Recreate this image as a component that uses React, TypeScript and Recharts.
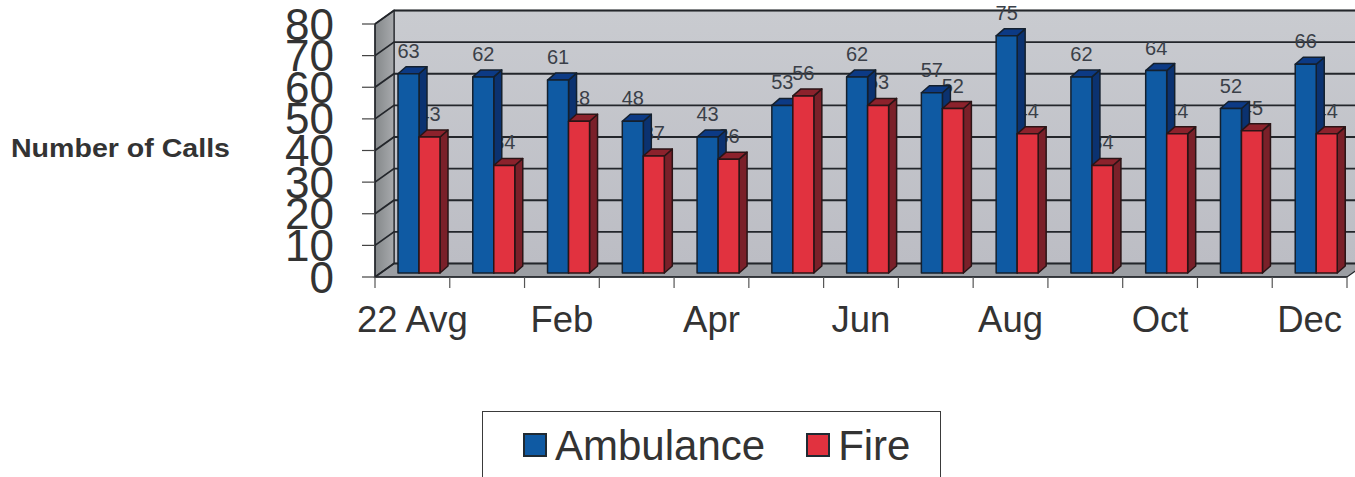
import React from "react";
import { BarChart, Bar, XAxis, YAxis, CartesianGrid, Legend } from "recharts";

const months = ["22 Avg", "Jan", "Feb", "Mar", "Apr", "May", "Jun", "Jul", "Aug", "Sep", "Oct", "Nov", "Dec"];
const ambulance = [63, 62, 61, 48, 43, 53, 62, 57, 75, 62, 64, 52, 66];
const fire = [43, 34, 48, 37, 36, 56, 53, 52, 44, 34, 44, 45, 44];
const yTicks = [0, 10, 20, 30, 40, 50, 60, 70, 80];

const data = months.map((month, i) => ({ month, Ambulance: ambulance[i], Fire: fire[i] }));

const FONT = "'Liberation Sans', Arial, sans-serif";
const INK = "#333333";
const LINE = "#23262b";
const WALL_DX = 19;
const WALL_DY = -13.5;
const BAR_DX = 7;
const BAR_DY = -4;
const DEPTH_X = 8;
const DEPTH_Y = -7;
const PLOT_WIDTH = 972;
const BAND = PLOT_WIDTH / months.length;

function Box3D({ x, y, width, height, front, side, top, edge }: any) {
  const r = x + width;
  const b = y + height;
  return (
    <g stroke={edge} strokeWidth={1.5} strokeLinejoin="round">
      <polygon points={`${r},${y} ${r + DEPTH_X},${y + DEPTH_Y} ${r + DEPTH_X},${b + DEPTH_Y} ${r},${b}`} fill={side} />
      <polygon points={`${x},${y} ${x + DEPTH_X},${y + DEPTH_Y} ${r + DEPTH_X},${y + DEPTH_Y} ${r},${y}`} fill={top} />
      <rect x={x} y={y} width={width} height={height} fill={front} />
    </g>
  );
}

function ValueText({ x, y, value }: any) {
  return (
    <text x={x} y={y} textAnchor="middle" dominantBaseline="central" fontFamily={FONT} fontSize={20} fill="#3a3f48">
      {value}
    </text>
  );
}

// The fire label sits behind the blue bar, as in the scanned chart, so it is painted here first.
function AmbulanceShape(props: any) {
  const { x, y, width, height, payload } = props;
  const X = x + BAR_DX;
  const Y = y + BAR_DY;
  const unit = height / payload.Ambulance;
  const fireTop = Y + height - payload.Fire * unit;
  return (
    <g>
      <ValueText x={X + width + width / 2} y={fireTop - 23} value={payload.Fire} />
      <ValueText x={X + width / 2} y={Y - 23} value={payload.Ambulance} />
      <Box3D x={X} y={Y} width={width} height={height} front="#0f5aa3" side="#0b3270" top="#0c3a85" edge="#14202e" />
    </g>
  );
}

function FireShape(props: any) {
  const { x, y, width, height } = props;
  return <Box3D x={x + BAR_DX} y={y + BAR_DY} width={width} height={height} front="#e1323f" side="#7a2029" top="#8c222c" edge="#2a1416" />;
}

// Tick marks fall on the category boundaries; only every other month is named.
function MonthTick({ x, y, index, payload }: any) {
  const tickTop = y - 28;
  const tickBottom = tickTop + 11;
  const left = x - BAND / 2;
  const right = x + BAND / 2;
  return (
    <g>
      <line x1={left} x2={left} y1={tickTop} y2={tickBottom} stroke="#555" strokeWidth={1.2} />
      {index === months.length - 1 && <line x1={right} x2={right} y1={tickTop} y2={tickBottom} stroke="#555" strokeWidth={1.2} />}
      {index % 2 === 0 && (
        <text x={x} y={y + 27} textAnchor="middle" fontFamily={FONT} fontSize={36.5} fill={INK}>
          {payload.value}
        </text>
      )}
    </g>
  );
}

function GridLine(props: any) {
  const { x1, y1, x2, index, x, y, width, height } = props;
  const left = x1 + WALL_DX;
  const backY = y1 + WALL_DY;
  const px = x ?? x1;
  const py = y ?? 24;
  const pw = width ?? x2 - x1;
  const ph = height ?? 253;
  return (
    <g>
      {index === 0 && (
        <g>
          <defs>
            <linearGradient id="backWall" x1="0" y1="0" x2="0" y2="1">
              <stop offset="0" stopColor="#c9cbd0" />
              <stop offset="1" stopColor="#bcbdc4" />
            </linearGradient>
            <linearGradient id="sideWall" x1="0" y1="0" x2="1" y2="0">
              <stop offset="0" stopColor="#84888a" />
              <stop offset="1" stopColor="#a8aaad" />
            </linearGradient>
          </defs>
          <rect x={px + WALL_DX} y={py + WALL_DY} width={pw} height={ph} fill="url(#backWall)" stroke={LINE} strokeWidth={1.2} />
          <polygon
            points={`${px},${py} ${px + WALL_DX},${py + WALL_DY} ${px + WALL_DX},${py + ph + WALL_DY} ${px},${py + ph}`}
            fill="url(#sideWall)"
            stroke={LINE}
            strokeWidth={1.2}
          />
          <polygon
            points={`${px},${py + ph} ${px + WALL_DX},${py + ph + WALL_DY} ${px + pw + WALL_DX},${py + ph + WALL_DY} ${px + pw},${py + ph}`}
            fill="#9b9ea3"
            stroke={LINE}
            strokeWidth={1.2}
          />
        </g>
      )}
      <polyline points={`${x1},${y1} ${left},${backY} ${x2 + WALL_DX},${backY}`} fill="none" stroke={LINE} strokeWidth={1.8} />
    </g>
  );
}

function LegendBox({ payload }: any) {
  const items = payload ?? [];
  return (
    <div
      style={{
        boxSizing: "border-box",
        width: 459,
        height: 90,
        border: "1px solid #3a3a3a",
        display: "flex",
        alignItems: "flex-start",
        paddingLeft: 40,
        paddingTop: 10,
        gap: 41,
        background: "#fff",
      }}
    >
      {items.map((item: any) => (
        <div key={item.value} style={{ display: "flex", alignItems: "center", gap: 8, fontFamily: FONT, fontSize: 42, lineHeight: "48px", color: INK }}>
          <span style={{ boxSizing: "border-box", width: 24, height: 24, background: item.color, border: "2px solid #1f2a33", marginTop: -2 }} />
          {item.value}
        </div>
      ))}
    </div>
  );
}

export default function App() {
  return (
    <div style={{ position: "absolute", left: 0, top: 0, width: 1355, height: 477, overflow: "hidden", background: "#fff" }}>
      <BarChart
        width={1355}
        height={477}
        data={data}
        margin={{ top: 24, right: 1355 - 375 - PLOT_WIDTH, bottom: 0, left: 0 }}
        barGap={0}
        barCategoryGap={16}
      >
        <CartesianGrid vertical={false} horizontal={GridLine as any} />
        <XAxis
          dataKey="month"
          interval={0}
          height={200}
          axisLine={{ stroke: LINE, strokeWidth: 1.4 }}
          tickLine={false}
          tickSize={10}
          tickMargin={18}
          tick={MonthTick as any}
        />
        <YAxis
          width={375}
          domain={[0, 80]}
          ticks={yTicks}
          interval={0}
          axisLine={{ stroke: LINE, strokeWidth: 1.4 }}
          tickLine={{ stroke: "#444", strokeWidth: 1.2 }}
          tickSize={13}
          tickMargin={28}
          tick={{ fontFamily: FONT, fontSize: 44, fill: INK }}
          label={{
            content: () => (
              <text x={11} y={157} fontFamily={FONT} fontWeight="bold" fontSize={26} fill={INK} textLength={219} lengthAdjust="spacingAndGlyphs">
                Number of Calls
              </text>
            ),
          }}
        />
        <Legend
          layout="horizontal"
          verticalAlign="middle"
          align="center"
          content={LegendBox as any}
          wrapperStyle={{ position: "absolute", left: 482, top: 411, width: 459, height: 90, margin: 0 }}
        />
        <Bar dataKey="Ambulance" fill="#0f5aa3" shape={AmbulanceShape as any} isAnimationActive={false} />
        <Bar dataKey="Fire" fill="#e1323f" shape={FireShape as any} isAnimationActive={false} />
      </BarChart>
    </div>
  );
}
